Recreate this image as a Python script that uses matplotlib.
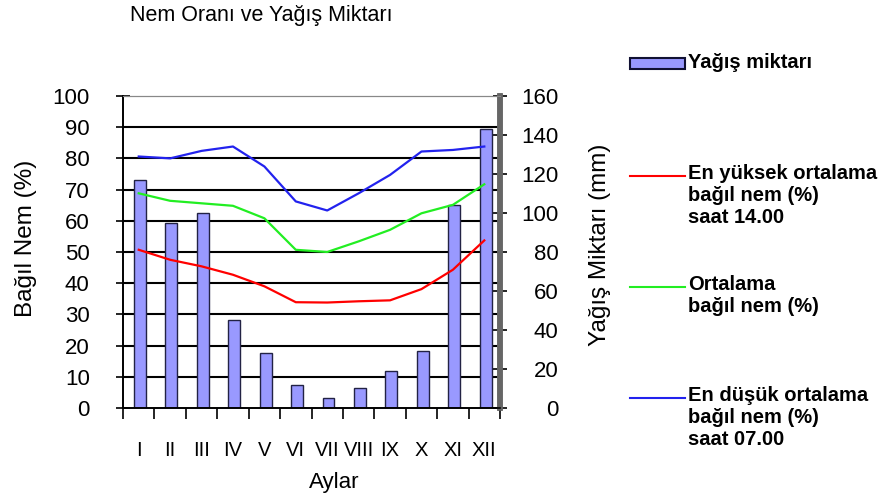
import numpy as np
import matplotlib.pyplot as plt
from matplotlib.lines import Line2D
from matplotlib.patches import Rectangle

plt.rcParams['font.family'] = ['Liberation Sans', 'DejaVu Sans']

months = ["I", "II", "III", "IV", "V", "VI", "VII", "VIII", "IX", "X", "XI", "XII"]
yagis = [117, 95, 100, 45, 28, 12, 5, 10, 19, 29, 104, 143]
nem_max = [50.7, 47.5, 45.4, 42.7, 39.0, 33.9, 33.8, 34.2, 34.5, 38.1, 44.3, 53.7]
nem_ort = [68.8, 66.4, 65.6, 64.8, 60.8, 50.7, 50.0, 53.4, 57.1, 62.4, 65.1, 71.7]
nem_min = [80.6, 80.0, 82.4, 83.8, 77.4, 66.2, 63.3, 68.8, 74.7, 82.2, 82.7, 83.8]

fig = plt.figure(figsize=(8.87, 4.97), dpi=100)
ax = fig.add_axes([0.1387, 0.1791, 0.425, 0.6278])
ax2 = ax.twinx()

x = np.arange(len(months))

# bars on the right axis, drawn behind the humidity lines
ax.set_zorder(ax2.get_zorder() + 1)
ax.patch.set_visible(False)
ax2.patch.set_facecolor('#C0C0C0')

for v in range(10, 100, 10):
    ax2.axhline(v * 1.6, color='black', lw=1.5, zorder=0)

ax2.bar(x + 0.04, yagis, width=0.38, color='#9999FF', edgecolor='#222244', lw=1.0, zorder=2)

ax.plot(x, nem_max, color='#FF0000', lw=1.6)
ax.plot(x, nem_ort, color='#22EE22', lw=1.6)
ax.plot(x, nem_min, color='#2222EE', lw=1.6)

ax.set_xlim(-0.5, 11.5)
ax.set_ylim(0, 100)
ax2.set_ylim(0, 160)

ax.set_yticks(range(0, 101, 10))
ax2.set_yticks(range(0, 161, 20))
ax.set_xticks(x)
ax.set_xticklabels(months)
ax.set_xticks(np.arange(-0.5, 12, 1), minor=True)

ax.tick_params(axis='y', direction='inout', length=10, width=1.2, labelsize=16, pad=19)
ax2.tick_params(axis='y', direction='inout', length=10, width=1.2, labelsize=16, pad=37)
for lab in ax2.get_yticklabels():
    lab.set_horizontalalignment('right')
ax.tick_params(axis='x', which='major', length=0, labelsize=14.5, pad=24)
ax.tick_params(axis='x', which='minor', direction='out', length=8, width=1.2)
ax2.tick_params(axis='x', which='both', length=0)

for a in (ax, ax2):
    a.spines['top'].set_color('#888888')
    a.spines['left'].set_linewidth(1.2)
    a.spines['bottom'].set_linewidth(1.2)
    a.spines['right'].set_color('#666666')
    a.spines['right'].set_linewidth(4)

ax.set_ylabel("Bağıl Nem (%)", fontsize=17.5)
ax.yaxis.set_label_coords(-0.227, 0.545)
ax2.set_ylabel("Yağış Miktarı (mm)", fontsize=17.5)
ax2.yaxis.set_label_coords(1.235, 0.522)
ax.set_xlabel("Aylar", fontsize=16)
ax.xaxis.set_label_coords(0.56, -0.205)

fig.text(261 / 887, 1 - 15 / 497, "Nem Oranı ve Yağış Miktarı", fontsize=15.5,
         ha='center', va='center')

# legend drawn at figure level
fig.patches.append(Rectangle((630 / 887, 1 - 69 / 497), 55 / 887, 11 / 497,
                             transform=fig.transFigure, facecolor='#9999FF',
                             edgecolor='#111133', lw=1.5))
fig.text(688 / 887, 1 - 63 / 497, "Yağış miktarı", fontsize=14.5, fontweight='bold',
         va='center')

entries = [
    ('#FF0000', 176, "En yüksek ortalama\nbağıl nem (%)\nsaat 14.00"),
    ('#22EE22', 287, "Ortalama\nbağıl nem (%)"),
    ('#2222EE', 398, "En düşük ortalama\nbağıl nem (%)\nsaat 07.00"),
]
for color, ypix, text in entries:
    yf = 1 - ypix / 497
    fig.lines.append(Line2D([630 / 887, 685 / 887], [yf, yf], transform=fig.transFigure,
                            color=color, lw=1.5))
    fig.text(688 / 887, yf + 12 / 497, text, fontsize=14.5, fontweight='bold',
             va='top', linespacing=1.2)

fig.savefig("out.png", dpi=100)
